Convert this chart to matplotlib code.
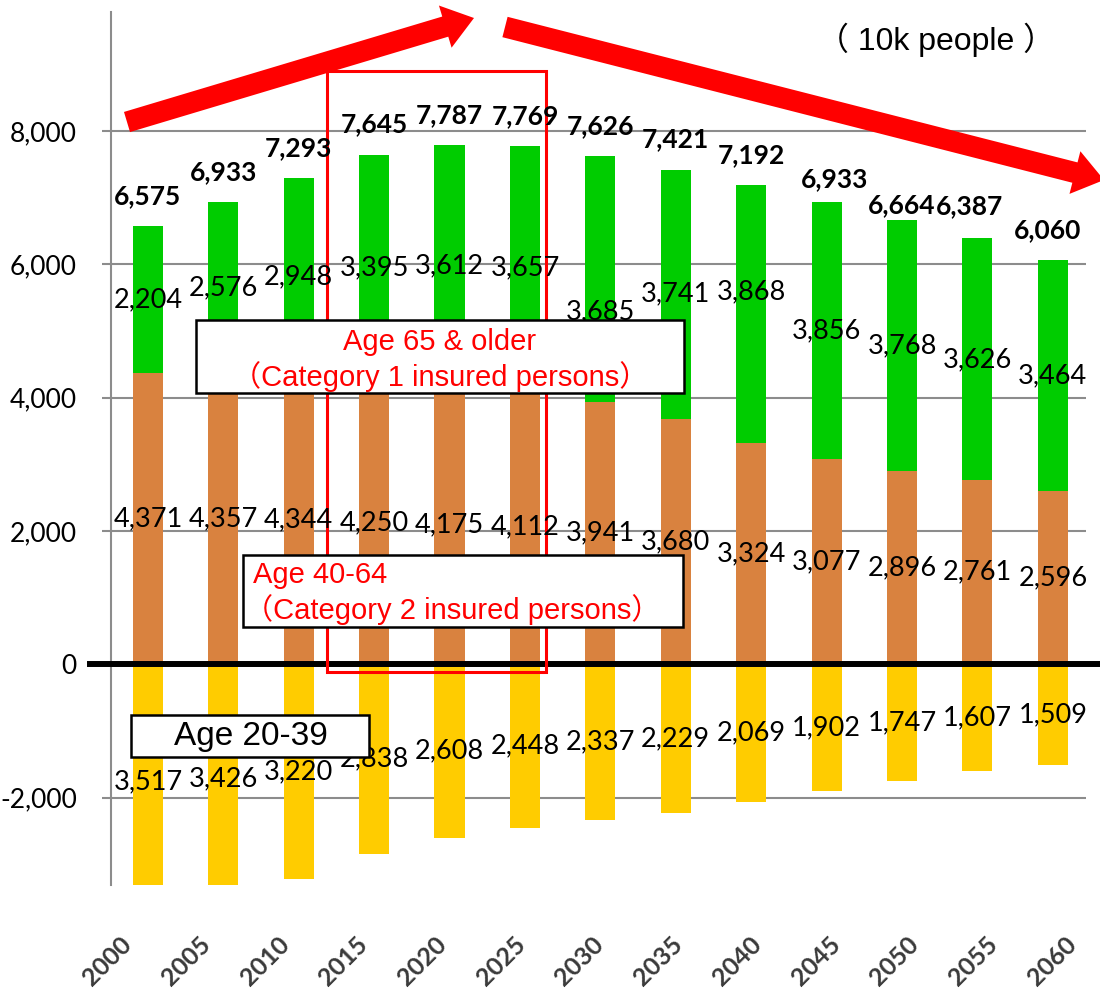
import matplotlib
matplotlib.use("Agg")
import matplotlib.pyplot as plt
import matplotlib.patches as mpatches
from matplotlib.ticker import FuncFormatter
from matplotlib.transforms import IdentityTransform, ScaledTranslation

# Population by age group (10k people)
years = ['2000', '2005', '2010', '2015', '2020', '2025', '2030',
         '2035', '2040', '2045', '2050', '2055', '2060']
age_65_older = [2204, 2576, 2948, 3395, 3612, 3657, 3685, 3741, 3868, 3856, 3768, 3626, 3464]
age_40_64 = [4371, 4357, 4344, 4250, 4175, 4112, 3941, 3680, 3324, 3077, 2896, 2761, 2596]
age_20_39 = [3517, 3426, 3220, 2838, 2608, 2448, 2337, 2229, 2069, 1902, 1747, 1607, 1509]
totals = [6575, 6933, 7293, 7645, 7787, 7769, 7626, 7421, 7192, 6933, 6664, 6387, 6060]

GREEN = '#00CC00'
ORANGE = '#D9823F'
YELLOW = '#FFCC00'
GRID = '#8C8C8C'
NUM_FONT = 'Lato'
TXT_FONT = ['Liberation Sans', 'Noto Sans CJK JP']

W, H = 1100, 1001
fig = plt.figure(figsize=(W / 100, H / 100), dpi=100)
ax = fig.add_axes([111 / W, 1 - 885 / H, 975 / W, 873 / H])

x = list(range(len(years)))
bw = 0.4
ax.bar(x, age_40_64, width=bw, color=ORANGE, zorder=2)
ax.bar(x, age_65_older, width=bw, bottom=age_40_64, color=GREEN, zorder=2)
ax.bar(x, [-v for v in age_20_39], width=bw, color=YELLOW, zorder=2)

ax.set_xlim(-0.49, 12.44)
ax.set_ylim(-3310, 9784)

# segment labels (a couple were nudged in the original)
green_shift = {6: -500, 8: 330}
for i in x:
    lo = age_40_64[i]
    hi = age_65_older[i]
    ax.text(i, lo + hi / 2 + green_shift.get(i, 0), f'{hi:,}', ha='center', va='center',
            fontsize=19.5, family=NUM_FONT, zorder=5)
    ax.text(i, lo / 2, f'{lo:,}', ha='center', va='center',
            fontsize=19.5, family=NUM_FONT, zorder=5)
    ax.text(i, -age_20_39[i] / 2, f'{age_20_39[i]:,}', ha='center', va='center',
            fontsize=19.5, family=NUM_FONT, zorder=5)

# totals above bars
total_nudge = {9: (6, -5), 10: (0, -11), 11: (-6, 2), 12: (-4, 0)}
for i in x:
    dx, dy = total_nudge.get(i, (0, 0))
    top = age_40_64[i] + age_65_older[i]
    ax.annotate(f'{totals[i]:,}', (i, top), xytext=(dx, 21.6 + dy),
                textcoords='offset points', ha='center', va='center',
                fontsize=19, fontweight='bold', family=NUM_FONT, zorder=5)

# axes styling
for s in ['top', 'right', 'bottom']:
    ax.spines[s].set_visible(False)
ax.spines['left'].set_color(GRID)
ax.spines['left'].set_linewidth(1.5)

ax.set_yticks([-2000, 0, 2000, 4000, 6000, 8000])
ax.yaxis.set_major_formatter(FuncFormatter(lambda v, p: f'{v:,.0f}'))
ax.tick_params(axis='y', direction='out', length=6.5, width=1.5, color=GRID,
               pad=18, labelsize=19)
for lbl in ax.get_yticklabels():
    lbl.set_family(NUM_FONT)
ax.yaxis.grid(True, color=GRID, linewidth=1.5)
ax.set_axisbelow(True)

# slanted year labels, spread slightly wider than the bars as in the original
ax.set_xticks(x)
ax.set_xticklabels(years, rotation=45, ha='right', va='center', rotation_mode='anchor',
                   fontsize=18, fontweight='bold', color='#3A3A3A', family=NUM_FONT)
ax.tick_params(axis='x', length=0, pad=40)
for i, lbl in enumerate(ax.get_xticklabels()):
    shift = ScaledTranslation((-20 + 3.3 * i) / 100, 0, fig.dpi_scale_trans)
    lbl.set_transform(lbl.get_transform() + shift)

# thick zero line
ax.axhline(0, xmin=(90 - 111) / 975, xmax=(1100 - 111) / 975, color='black',
           linewidth=4.3, zorder=3, clip_on=False)

# red frame around 2015-2025
ax.add_patch(mpatches.Rectangle((2.37, -115), 2.91, 9015, fill=False, edgecolor='red',
                                linewidth=2.2, zorder=4, clip_on=False))


def px(xp, yp):
    return xp, H - yp


# text boxes (pixel positions)
def box(x0, y0, x1, y1):
    fig.add_artist(mpatches.Rectangle(px(x0, y1), x1 - x0, y1 - y0, transform=IdentityTransform(),
                                      facecolor='white', edgecolor='black', linewidth=1.8,
                                      zorder=6))


box(196, 320, 684, 393)
fig.text(440 / W, 1 - 342 / H, 'Age 65 & older', color='red', fontsize=21, family=TXT_FONT,
         ha='center', va='center', zorder=7)
fig.text(440 / W, 1 - 377 / H, '（Category 1 insured persons）', color='red', fontsize=21,
         family=TXT_FONT, ha='center', va='center', zorder=7)

box(243, 555, 683, 627)
fig.text(253 / W, 1 - 575 / H, 'Age 40-64', color='red', fontsize=21, family=TXT_FONT,
         ha='left', va='center', zorder=7)
fig.text(244 / W, 1 - 610 / H, '（Category 2 insured persons）', color='red', fontsize=21,
         family=TXT_FONT, ha='left', va='center', zorder=7)

box(131, 715, 369, 757)
fig.text(251 / W, 1 - 736 / H, 'Age 20-39', color='black', fontsize=24, family=TXT_FONT,
         ha='center', va='center', zorder=7)

fig.text(936 / W, 1 - 40 / H, '（ 10k people ）', color='black', fontsize=23,
         family=TXT_FONT, ha='center', va='center', zorder=7)

# trend arrows
for (x0, y0), (x1, y1) in [((127, 122), (474, 18)), ((505, 27), (1104, 180))]:
    sx, sy = px(x0, y0)
    ex, ey = px(x1, y1)
    fig.add_artist(mpatches.FancyArrow(sx, sy, ex - sx, ey - sy, width=21, head_width=44,
                                       head_length=30, length_includes_head=True,
                                       transform=IdentityTransform(), color='#FF0000',
                                       linewidth=0, zorder=8))

fig.savefig('out.png', dpi=100)
